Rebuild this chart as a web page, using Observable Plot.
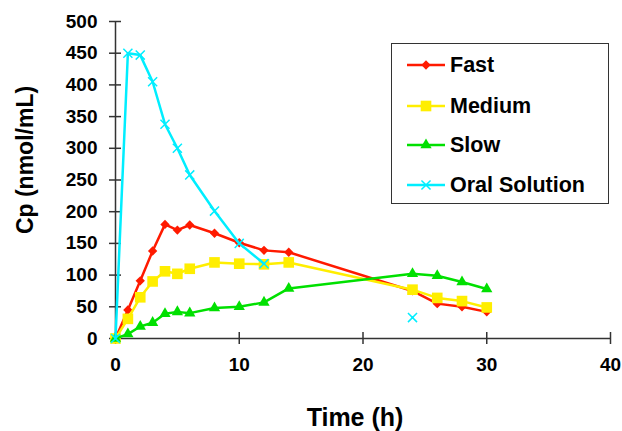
<!DOCTYPE html>
<html>
<head>
<meta charset="utf-8">
<script src="https://cdn.jsdelivr.net/npm/d3@7"></script>
<script src="https://cdn.jsdelivr.net/npm/@observablehq/plot@0.6"></script>
<style>
  body { margin: 0; background: white; }
  #wrap { position: relative; width: 622px; height: 431px; font-family: 'Liberation Sans', Arial, sans-serif; }
  #legend { position: absolute; left: 391px; top: 43px; width: 218px; height: 161px; box-sizing: border-box;
            border: 1.5px solid #333; background: white; }
  .item { position: absolute; left: 0; height: 26px; display: flex; align-items: center; }
  .item span { font-size: 21.5px; font-weight: bold; color: #000; margin-left: 3px; white-space: nowrap; }
</style>
</head>
<body>
<div id="wrap"></div>
<script>
// Data
const time = [0, 1, 2, 3, 4, 5, 6, 8, 10, 12, 14, 24, 26, 28, 30];
const fast = [0, 45, 91, 138, 180, 171, 179, 166, 151, 139, 136, 75, 55, 50, 42];
const medium = [0, 31, 65, 90, 106, 102, 110, 120, 118, 117, 120, 77, 64, 59, 49];
const slow = [0, 7, 19, 25, 39, 42, 40, 48, 50, 57, 79, 102, 99, 89, 78];
const oral = [0, 450, 447, 405, 338, 300, 258, 201, 150, 118, null, 33, null, null, null];
const seriesNames = ["Fast", "Medium", "Slow", "Oral Solution"];
const seriesValues = [fast, medium, slow, oral];
const seriesColors = ["#ff1a00", "#ffee00", "#00e000", "#00eeff"];
const seriesSymbols = ["diamond2", "square", "triangle", "times"];
const symbolR = [4.2, 6, 4.2, 4.2];
const xTicks = [0, 10, 20, 30, 40];
const yTicks = [0, 50, 100, 150, 200, 250, 300, 350, 400, 450, 500];

const W = 622, H = 431, ML = 115, MR = 12, MT = 21, MB = 93;
const frameW = W - ML - MR, frameH = H - MT - MB, tickLen = 12;

const rowsOf = i => time.map((t, j) => ({series: seriesNames[i], t, cp: seriesValues[i][j]}));

const seriesMarks = [];
seriesNames.forEach((name, i) => {
  const rows = rowsOf(i);
  seriesMarks.push(Plot.line(rows, {x: "t", y: "cp", stroke: seriesColors[i], strokeWidth: 2.5}));
  const filled = seriesSymbols[i] !== "times";
  seriesMarks.push(Plot.dot(rows.filter(d => d.cp != null), {
    x: "t", y: "cp", symbol: seriesSymbols[i], r: symbolR[i],
    ...(filled ? {fill: seriesColors[i], stroke: "none"} : {stroke: seriesColors[i], strokeWidth: 1.5, fill: "none"})
  }));
});

const axisStyle = {stroke: "#333", strokeWidth: 1.5};
const chart = Plot.plot({
  width: W, height: H,
  marginLeft: ML, marginRight: MR, marginTop: MT, marginBottom: MB,
  x: {domain: [0, 40]},
  y: {domain: [0, 500]},
  style: {fontFamily: "'Liberation Sans', Arial, sans-serif", background: "white", color: "#000", overflow: "visible"},
  marks: [
    Plot.axisX({ticks: xTicks, tickSize: 0, tickPadding: 19, fontSize: 19, fontWeight: "bold", label: null, tickFormat: d => String(d)}),
    Plot.axisY({ticks: yTicks, tickSize: 0, tickPadding: 18, fontSize: 19, fontWeight: "bold", label: null, tickFormat: d => String(d)}),
    Plot.ruleX(xTicks, {x: d => d, insetTop: frameH - tickLen, dy: tickLen / 2, ...axisStyle}),
    Plot.ruleY(yTicks, {y: d => d, insetRight: frameW - tickLen, dx: -tickLen / 2, ...axisStyle}),
    Plot.ruleX([0], axisStyle),
    Plot.ruleY([0], axisStyle),
    ...seriesMarks,
    Plot.text(["Cp (nmol/mL)"], {text: d => d, frameAnchor: "left", textAnchor: "middle", lineAnchor: "middle", rotate: -90, dx: -90, dy: -20, fontSize: 23, fontWeight: "bold", fill: "#000"}),
    Plot.text(["Time (h)"], {text: d => d, frameAnchor: "bottom", textAnchor: "middle", lineAnchor: "middle", dx: -8, dy: 79, fontSize: 25, fontWeight: "bold", fill: "#000"})
  ]
});

const wrap = document.getElementById("wrap");
wrap.appendChild(chart);

// Legend
const symbolTypes = {diamond2: d3.symbolDiamond2, square: d3.symbolSquare, triangle: d3.symbolTriangle, times: d3.symbolTimes};
const legend = document.createElement("div");
legend.id = "legend";
const rowTops = [8, 49, 88, 128];
seriesNames.forEach((name, i) => {
  const item = document.createElement("div");
  item.className = "item";
  item.style.top = rowTops[i] + "px";
  item.style.left = "15px";
  const svg = d3.create("svg").attr("width", 40).attr("height", 20);
  svg.append("line").attr("x1", 0).attr("x2", 38).attr("y1", 10).attr("y2", 10)
    .attr("stroke", seriesColors[i]).attr("stroke-width", 2.5);
  const filled = seriesSymbols[i] !== "times";
  svg.append("path")
    .attr("d", d3.symbol(symbolTypes[seriesSymbols[i]], Math.PI * symbolR[i] * symbolR[i])())
    .attr("transform", "translate(19,10)")
    .attr("fill", filled ? seriesColors[i] : "none")
    .attr("stroke", filled ? "none" : seriesColors[i])
    .attr("stroke-width", 1.5);
  item.appendChild(svg.node());
  const span = document.createElement("span");
  span.textContent = name;
  item.appendChild(span);
  legend.appendChild(item);
});
wrap.appendChild(legend);
</script>
</body>
</html>
